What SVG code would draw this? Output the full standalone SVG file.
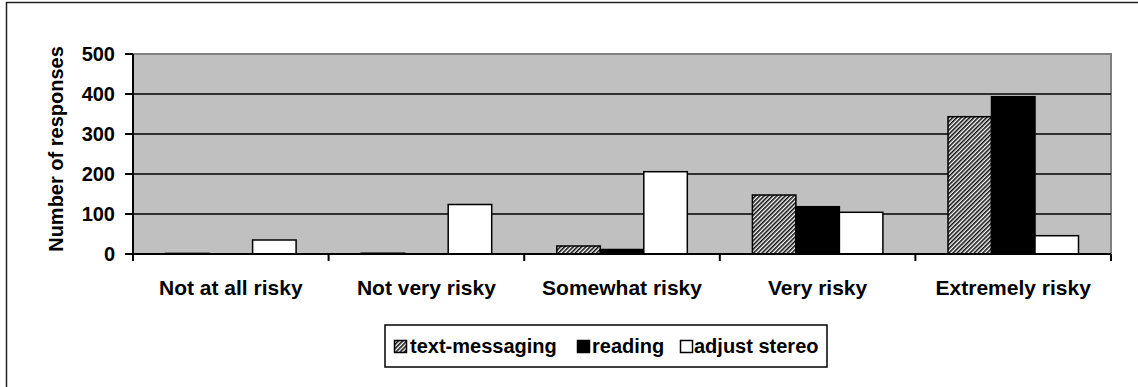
<svg xmlns="http://www.w3.org/2000/svg" width="1138" height="387" viewBox="0 0 1138 387">
<style>
  text { font-family: "Liberation Sans", Arial, sans-serif; font-weight: bold; fill: #000; }
  .tick { font-size: 20px; text-anchor: end; }
  .cat { font-size: 21px; text-anchor: middle; }
  .leg { font-size: 20px; }
  .grid { stroke: #000; stroke-width: 1.5; }
  .axis { stroke: #000; stroke-width: 2; fill: none; }
  .bar { stroke: #000; stroke-width: 1.5; }
  .hatch { fill: url(#hatch); }
  .solid { fill: #000; }
  .open { fill: #fff; }
</style>
<defs>
  <pattern id="hatch" width="3" height="3" patternUnits="userSpaceOnUse" patternTransform="rotate(45)">
    <rect width="3" height="3" fill="#fff"/>
    <rect width="1.6" height="3" fill="#111"/>
  </pattern>
</defs>
<rect width="1138" height="387" fill="#fff"/>
<path d="M6.5 387 V2.5 H1138" fill="none" stroke="#222" stroke-width="1.5"/>

<g id="plot-area">
  <rect x="133" y="54" width="978" height="200" fill="#c0c0c0" stroke="#808080" stroke-width="2"/>
  <g id="gridlines">
    <line class="grid" x1="133" y1="94" x2="1111" y2="94"/>
    <line class="grid" x1="133" y1="134" x2="1111" y2="134"/>
    <line class="grid" x1="133" y1="174" x2="1111" y2="174"/>
    <line class="grid" x1="133" y1="214" x2="1111" y2="214"/>
  </g>
</g>

<g id="bars">
  <g id="cat-not-at-all-risky">
    <rect class="bar hatch" x="165.6" y="253.4" width="43.5" height="0.6"/>
    <rect class="bar open" x="252.6" y="240" width="43.5" height="14"/>
  </g>
  <g id="cat-not-very-risky">
    <rect class="bar hatch" x="361.2" y="253.2" width="43.5" height="0.8"/>
    <rect class="bar open" x="448.2" y="204.5" width="43.5" height="49.5"/>
  </g>
  <g id="cat-somewhat-risky">
    <rect class="bar hatch" x="556.8" y="246" width="43.5" height="8"/>
    <rect class="bar solid" x="600.3" y="249.5" width="43.5" height="4.5"/>
    <rect class="bar open" x="643.8" y="171.7" width="43.5" height="82.3"/>
  </g>
  <g id="cat-very-risky">
    <rect class="bar hatch" x="752.4" y="195" width="43.5" height="59"/>
    <rect class="bar solid" x="795.9" y="206.7" width="43.5" height="47.3"/>
    <rect class="bar open" x="839.4" y="212.3" width="43.5" height="41.7"/>
  </g>
  <g id="cat-extremely-risky">
    <rect class="bar hatch" x="948" y="116.7" width="43.5" height="137.3"/>
    <rect class="bar solid" x="991.5" y="96.7" width="43.5" height="157.3"/>
    <rect class="bar open" x="1035" y="235.7" width="43.5" height="18.3"/>
  </g>
</g>

<g id="axes">
  <path class="axis" d="M133 54 V254 M125 254 H1111"/>
  <path class="axis" d="M125 54 H133 M125 94 H133 M125 134 H133 M125 174 H133 M125 214 H133"/>
  <path class="axis" d="M133 254 V261 M328.6 254 V261 M524.2 254 V261 M719.8 254 V261 M915.4 254 V261 M1111 254 V261"/>
</g>

<g id="y-labels">
  <text class="tick" x="115" y="61">500</text>
  <text class="tick" x="115" y="101">400</text>
  <text class="tick" x="115" y="141">300</text>
  <text class="tick" x="115" y="181">200</text>
  <text class="tick" x="115" y="221">100</text>
  <text class="tick" x="115" y="261">0</text>
</g>
<text id="y-title" transform="translate(63 149) rotate(-90)" font-size="20" text-anchor="middle">Number of responses</text>

<g id="x-labels">
  <text class="cat" x="230.8" y="295">Not at all risky</text>
  <text class="cat" x="426.4" y="295">Not very risky</text>
  <text class="cat" x="622" y="295">Somewhat risky</text>
  <text class="cat" x="817.6" y="295">Very risky</text>
  <text class="cat" x="1013.2" y="295">Extremely risky</text>
</g>

<g id="legend">
  <rect x="385" y="325" width="442" height="42" fill="#fff" stroke="#000" stroke-width="1.5"/>
  <rect class="bar hatch" x="394.5" y="340.5" width="12" height="12"/>
  <text class="leg" x="410" y="353">text-messaging</text>
  <rect class="bar solid" x="577.5" y="340.5" width="12" height="12"/>
  <text class="leg" x="592" y="353">reading</text>
  <rect class="bar open" x="680.5" y="340.5" width="12" height="12"/>
  <text class="leg" x="694" y="353">adjust stereo</text>
</g>
</svg>
